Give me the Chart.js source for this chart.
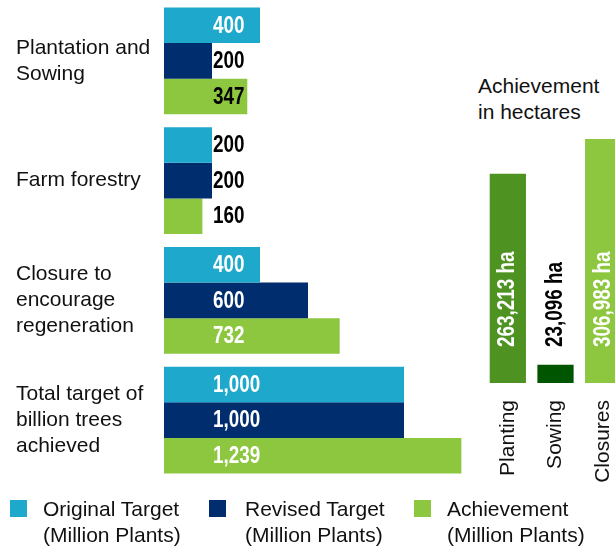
<!DOCTYPE html>
<html>
<head>
<meta charset="utf-8">
<script src="https://cdn.jsdelivr.net/npm/chart.js@4.4.1/dist/chart.umd.min.js"></script>
<style>
  html, body { margin: 0; padding: 0; width: 615px; height: 546px; overflow: hidden; background: #fff; }
  #wrap { position: relative; width: 615px; height: 546px; font-family: 'Liberation Sans', Arial, sans-serif; color: #111; }
  #leftBox { position: absolute; left: 0; top: 0; width: 470px; height: 480px; }
  #rightBox { position: absolute; left: 478px; top: 100px; width: 149px; height: 400px; }
  #haTitle { position: absolute; left: 478px; top: 73px; font-size: 21px; line-height: 26px; white-space: nowrap; }
  .leg { position: absolute; top: 496px; font-size: 21px; line-height: 26px; white-space: nowrap; }
  .sw { position: absolute; top: 500px; width: 17px; height: 17px; }
</style>
</head>
<body>
<div id="wrap">
  <div id="leftBox"><canvas id="left"></canvas></div>
  <div id="haTitle">Achievement<br>in hectares</div>
  <div id="rightBox"><canvas id="right"></canvas></div>
  <div id="legend"></div>
</div>
<script>
// ---- data ----
const categories = [
  ['Plantation and', 'Sowing'],
  ['Farm forestry'],
  ['Closure to', 'encourage', 'regeneration'],
  ['Total target of', 'billion trees', 'achieved']
];
const originalTarget = [400, 200, 400, 1000];
const revisedTarget = [200, 200, 600, 1000];
const achievement = [347, 160, 732, 1239];
const seriesNames = [
  ['Original Target', '(Million Plants)'],
  ['Revised Target', '(Million Plants)'],
  ['Achievement', '(Million Plants)']
];
const haCategories = ['Planting', 'Sowing', 'Closures'];
const haValues = [263213, 23096, 306983];

// ---- styles ----
const seriesColors = ['#1EA9CC', '#002D6E', '#8DC63F'];
const haColors = ['#4E9322', '#005500', '#8DC63F'];
const textFont = "'Liberation Sans', Arial, sans-serif";
const valueFont = "bold 23px 'Liberation Sans', Arial, sans-serif";
const NARROW = 0.82; // horizontal squeeze to mimic a narrow bold face
const fmt = v => v.toLocaleString('en-US');

function narrowText(ctx, txt, x, y, angle) {
  ctx.save();
  ctx.translate(x, y);
  if (angle) ctx.rotate(angle);
  ctx.scale(NARROW, 1);
  ctx.fillText(txt, 0, 0);
  ctx.restore();
}

// ---- left chart: value labels ----
const leftLabels = {
  id: 'leftLabels',
  afterDatasetsDraw(chart) {
    const ctx = chart.ctx;
    ctx.save();
    ctx.font = valueFont;
    ctx.textAlign = 'left';
    ctx.textBaseline = 'middle';
    chart.data.datasets.forEach((ds, di) => {
      chart.getDatasetMeta(di).data.forEach((el, i) => {
        const v = ds.data[i];
        ctx.fillStyle = v >= 400 ? '#ffffff' : '#000000';
        narrowText(ctx, fmt(v), chart.chartArea.left + 49, el.y + 1, 0);
      });
    });
    ctx.restore();
  }
};

new Chart(document.getElementById('left'), {
  type: 'bar',
  data: {
    labels: categories,
    datasets: [originalTarget, revisedTarget, achievement].map((d, i) => ({
      label: seriesNames[i].join(' '),
      data: d,
      backgroundColor: seriesColors[i],
      borderWidth: 0,
      categoryPercentage: 0.89,
      barPercentage: 1.0
    }))
  },
  options: {
    indexAxis: 'y',
    responsive: true,
    maintainAspectRatio: false,
    animation: false,
    layout: { padding: { left: 16, top: 1, right: 0, bottom: 0 } },
    plugins: { legend: { display: false }, tooltip: { enabled: false } },
    scales: {
      x: { display: false, min: 0, max: 1275 },
      y: {
        grid: { display: false },
        border: { display: false },
        ticks: {
          crossAlign: 'far',
          color: '#111',
          font: { family: textFont, size: 21, lineHeight: 1.24 }
        },
        afterFit(scale) {
          scale.width = 148;
          scale.paddingTop = 0;
          scale.paddingBottom = 0;
        }
      }
    }
  },
  plugins: [leftLabels]
});

// ---- right chart: value labels (rotated) ----
const rightLabels = {
  id: 'rightLabels',
  afterDatasetsDraw(chart) {
    const ctx = chart.ctx;
    ctx.save();
    ctx.font = valueFont;
    ctx.textAlign = 'left';
    ctx.textBaseline = 'middle';
    const ds = chart.data.datasets[0];
    chart.getDatasetMeta(0).data.forEach((el, i) => {
      const txt = fmt(ds.data[i]) + ' ha';
      const w = ctx.measureText(txt).width * NARROW;
      const barH = el.base - el.y;
      ctx.fillStyle = barH > w + 40 ? '#ffffff' : '#000000';
      narrowText(ctx, txt, el.x, el.base - 36, -Math.PI / 2);
    });
    ctx.restore();
  }
};

new Chart(document.getElementById('right'), {
  type: 'bar',
  data: {
    labels: haCategories,
    datasets: [{
      label: 'Achievement in hectares',
      data: haValues,
      backgroundColor: haColors,
      borderWidth: 0,
      categoryPercentage: 1.0,
      barPercentage: 0.76
    }]
  },
  options: {
    responsive: true,
    maintainAspectRatio: false,
    animation: false,
    layout: { padding: { left: 6, top: 0, right: 0, bottom: 0 } },
    plugins: { legend: { display: false }, tooltip: { enabled: false } },
    scales: {
      y: { display: false, min: 0, max: 356000 },
      x: {
        grid: { display: false },
        border: { display: false },
        ticks: {
          minRotation: 90,
          maxRotation: 90,
          padding: 9,
          color: '#111',
          font: { family: textFont, size: 21 }
        },
        afterFit(scale) {
          scale.height = 117;
          scale.paddingLeft = 0;
          scale.paddingRight = 0;
        }
      }
    }
  },
  plugins: [rightLabels]
});

// ---- legend ----
const legendPos = [{ box: 10, text: 43 }, { box: 209, text: 245 }, { box: 414, text: 447 }];
const legend = document.getElementById('legend');
seriesNames.forEach((name, i) => {
  const sw = document.createElement('div');
  sw.className = 'sw';
  sw.style.left = legendPos[i].box + 'px';
  sw.style.background = seriesColors[i];
  legend.appendChild(sw);
  const t = document.createElement('div');
  t.className = 'leg';
  t.style.left = legendPos[i].text + 'px';
  t.innerHTML = name.join('<br>');
  legend.appendChild(t);
});
</script>
</body>
</html>
